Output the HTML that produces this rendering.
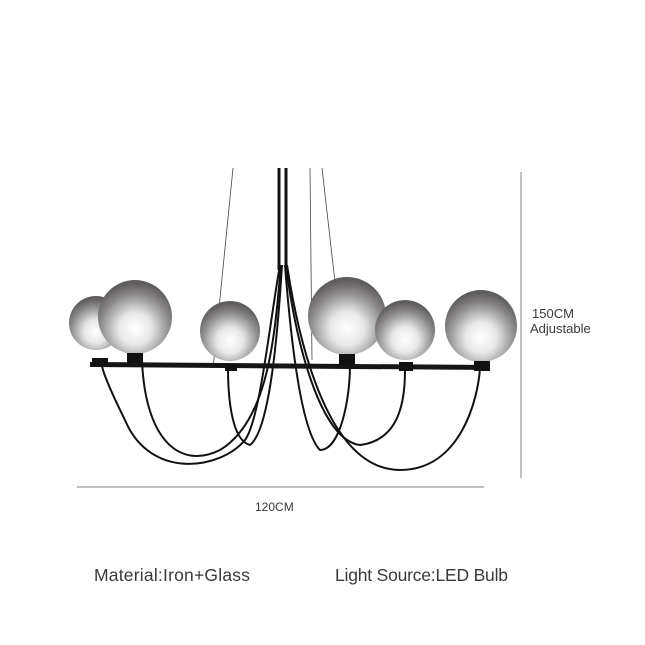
<!DOCTYPE html>
<html><head><style>
body{margin:0;background:#fff}
svg{display:block}
text{font-family:"Liberation Sans",sans-serif;fill:#3a3a3a}
</style></head><body>
<svg width="645" height="645" viewBox="0 0 645 645">
<defs>
<radialGradient id="g" cx="0.5" cy="0.66" r="0.62">
<stop offset="0" stop-color="#ffffff"/>
<stop offset="0.35" stop-color="#e8e8e8"/>
<stop offset="0.75" stop-color="#8c8a8a"/>
<stop offset="1" stop-color="#5e5c5c"/>
</radialGradient>
</defs>
<line x1="521" y1="172" x2="521" y2="478" stroke="#999" stroke-width="1.2"/>
<line x1="77" y1="487" x2="484" y2="487" stroke="#999" stroke-width="1.2"/>
<line x1="233" y1="168" x2="213" y2="368" stroke="#444" stroke-width="0.8"/>
<line x1="310" y1="168" x2="312" y2="360" stroke="#444" stroke-width="0.8"/>
<line x1="322" y1="168" x2="335" y2="282" stroke="#444" stroke-width="0.8"/>
<path d="M279 168 L279 270 M286 168 L286 270" stroke="#111" stroke-width="3"/>
<g fill="none" stroke="#111" stroke-width="2">
<path d="M280 265 C270 320 260 420 245 440 C220 470 150 480 125 420 C110 390 102 370 102 365"/>
<path d="M281 265 C275 330 270 420 220 450 C180 470 145 440 142 360"/>
<path d="M282 265 C278 330 270 430 250 445 C230 440 228 390 228 368"/>
<path d="M285 265 C290 330 300 430 320 450 C340 450 350 400 350 365"/>
<path d="M286 265 C295 340 320 440 360 445 C400 440 405 400 405 370"/>
<path d="M287 265 C300 350 330 470 400 470 C460 470 478 400 480 368"/>
</g>
<path d="M90 362 L490 365 L490 370 L90 367 Z" fill="#151515"/>
<circle cx="96" cy="323" r="27" fill="url(#g)"/>
<circle cx="135" cy="317" r="37" fill="url(#g)"/>
<circle cx="230" cy="331" r="30" fill="url(#g)"/>
<circle cx="347" cy="316" r="39" fill="url(#g)"/>
<circle cx="405" cy="330" r="30" fill="url(#g)"/>
<circle cx="481" cy="326" r="36" fill="url(#g)"/>
<g fill="#111">
<rect x="92" y="358" width="16" height="8"/>
<rect x="127" y="353" width="16" height="10"/>
<rect x="225" y="364" width="12" height="7"/>
<rect x="339" y="354" width="16" height="11"/>
<rect x="399" y="362" width="14" height="9"/>
<rect x="474" y="361" width="16" height="10"/>
</g>
<text x="532" y="318" font-size="13">150CM</text>
<text x="530" y="333" font-size="13">Adjustable</text>
<text x="255" y="511" font-size="12">120CM</text>
<text x="94" y="581" font-size="17.5" textLength="156">Material:Iron+Glass</text>
<text x="335" y="581" font-size="17.5" textLength="173">Light Source:LED Bulb</text>
</svg>
</body></html>
